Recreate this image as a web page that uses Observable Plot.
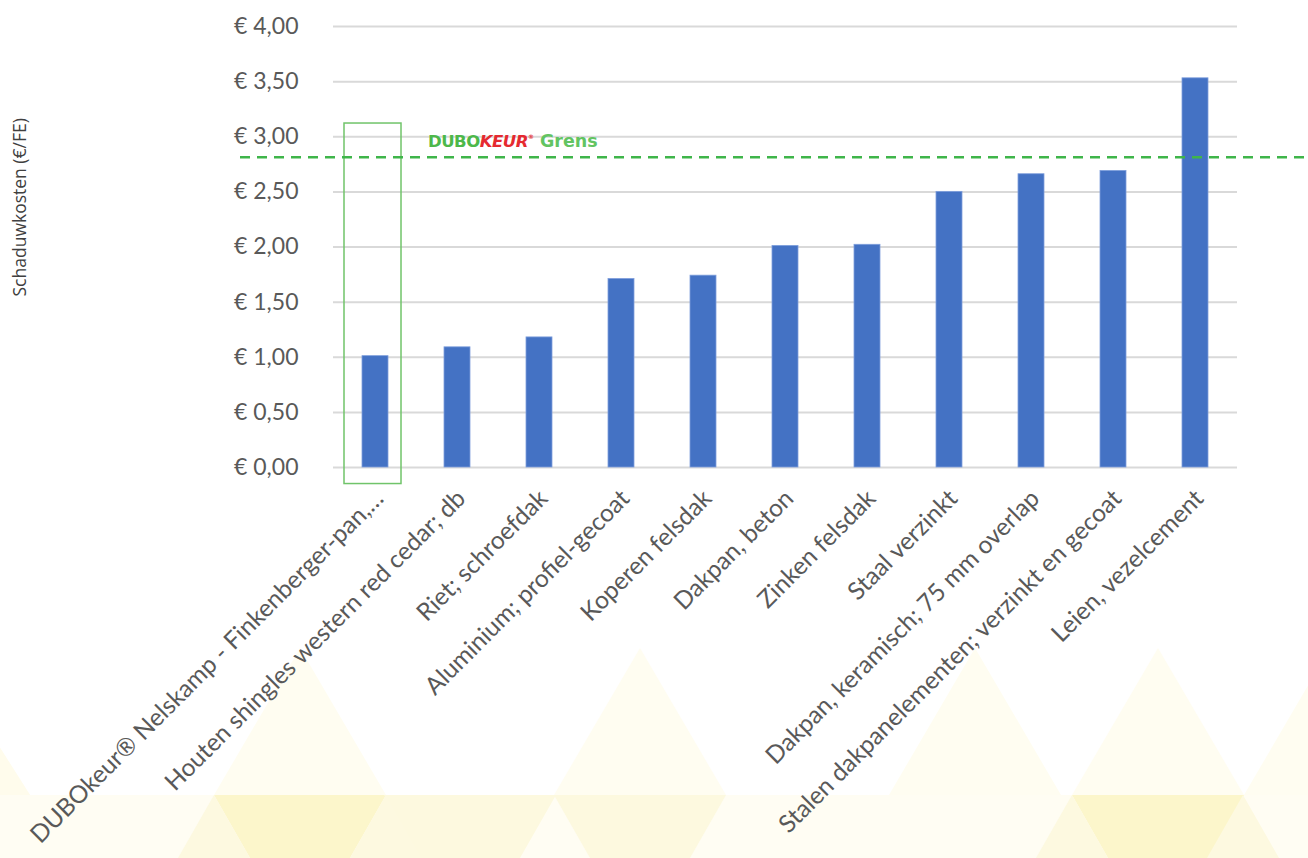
<!DOCTYPE html>
<html><head><meta charset="utf-8">
<script src="https://cdn.jsdelivr.net/npm/d3@7"></script>
<script src="https://cdn.jsdelivr.net/npm/@observablehq/plot@0.6"></script>
<style>
body{margin:0;background:#fff;}
#wrap{position:relative;width:1308px;height:858px;overflow:hidden;background:#fff;}
#bg{position:absolute;left:0;top:0;}
#chart{position:absolute;left:0;top:0;}
</style></head><body>
<div id="wrap"><svg id="bg" width="1308" height="858"></svg><div id="chart"></div></div>
<script>
const categories = [
  "DUBOkeur® Nelskamp - Finkenberger-pan,…",
  "Houten shingles western red cedar; db",
  "Riet; schroefdak",
  "Aluminium; profiel-gecoat",
  "Koperen felsdak",
  "Dakpan, beton",
  "Zinken felsdak",
  "Staal verzinkt",
  "Dakpan, keramisch; 75 mm overlap",
  "Stalen dakpanelementen; verzinkt en gecoat",
  "Leien, vezelcement"
];
const values = [1.01, 1.09, 1.18, 1.71, 1.74, 2.01, 2.02, 2.50, 2.66, 2.69, 3.53];
const yTicks = [0, 0.5, 1, 1.5, 2, 2.5, 3, 3.5, 4];
const limitValue = [2.81];
const highlightCategory = [categories[0]];
const highlightRange = [-0.15, 3.12];
const yTitle = "Schaduwkosten (€/FE)";

const data = categories.map((c, i) => ({category: c, value: values[i]}));
const fmt = v => "€ " + v.toFixed(2).replace(".", ",");

// decorative background: pale yellow triangle pattern along the bottom
const bg = d3.select("#bg");
const poly = (pts, c) => bg.append("polygon").attr("points", pts.map(d => d.join(",")).join(" ")).attr("fill", c);
const W = 86, top1 = 648, base1 = 795;
[300, 640, 975, 1158, 1330].forEach(px => poly([[px, top1], [px - W, base1], [px + W, base1]], "#fffdf1"));
poly([[-30, 700], [-130, 858], [70, 858]], "#fffcec");
poly([[0, base1], [1308, base1], [1308, 858], [0, 858]], "#fffdf3");
[300, 1158].forEach(px => poly([[px - W, base1], [px + W, base1], [px + W - 36, 858], [px - W + 36, 858]], "#fcf6cb"));
[470, 640].forEach(px => poly([[px - W, base1], [px + W, base1], [px + W - 36, 858], [px - W + 36, 858]], "#fdf9df"));
[214, 386, 1072, 1243].forEach(px => poly([[px, base1], [px - 36, 858], [px + 36, 858]], "#fdf9e0"));

const chart = Plot.plot({
  width: 1308,
  height: 858,
  marginLeft: 333,
  marginRight: 71,
  marginTop: 26,
  marginBottom: 391,
  style: {fontFamily: "Lato, sans-serif", fontSize: "23px", color: "#595959", background: "transparent", overflow: "visible"},
  x: {domain: categories, paddingInner: 0.68, paddingOuter: 0.34, label: null},
  y: {domain: [0, 4], label: null},
  marks: [
    Plot.gridY(yTicks, {stroke: "#d9d9d9", strokeOpacity: 1, strokeWidth: 2}),
    Plot.axisY(yTicks, {tickSize: 0, tickPadding: 35, tickFormat: fmt, fontSize: 23, fill: "#595959", label: null}),
    Plot.axisX({tickSize: 0, tickPadding: 27, dx: 4, tickRotate: -45, fontSize: 24.5, fill: "#595959", label: null}),
    Plot.text([yTitle], {y: () => 2.36, frameAnchor: "left", textAnchor: "middle", rotate: -90, dx: -313, fontSize: 17.5, fontFamily: "Open Sans, sans-serif", fill: "#404040"}),
    Plot.barY(data, {x: "category", y: "value", fill: "#4472c4", stroke: "#7f9fdc", strokeWidth: 0.8}),
    Plot.barY(highlightCategory, {x: d => d, y1: highlightRange[0], y2: highlightRange[1], fill: "none", stroke: "#70c46a", strokeWidth: 1.5, insetLeft: -18, insetRight: -13}),
    Plot.ruleY(limitValue, {
      render: (index, scales, values, dims) => {
        const g = d3.create("svg:g");
        const yv = scales.y(limitValue[0]);
        g.append("line").attr("x1", dims.marginLeft - 93).attr("x2", dims.width).attr("y1", yv).attr("y2", yv)
          .attr("stroke", "#3fb54a").attr("stroke-width", 2.5).attr("stroke-dasharray", "10,7");
        const x0 = scales.x(categories[1]);
        const t = g.append("text").attr("x", x0 - 16).attr("y", yv - 10).attr("text-anchor", "start")
          .attr("font-family", "DejaVu Sans, sans-serif").attr("font-weight", 700).attr("font-size", 16.5);
        t.append("tspan").attr("fill", "#4db84a").attr("letter-spacing", -0.5).text("DUBO");
        t.append("tspan").attr("fill", "#e52a30").attr("font-style", "italic").attr("letter-spacing", -0.5).text("KEUR");
        t.append("tspan").attr("fill", "#e52a30").attr("font-size", 6).attr("dy", -8).text("®");
        t.append("tspan").attr("fill", "#62c462").attr("dy", 8).attr("font-size", 17.5).text(" Grens");
        return g.node();
      }
    })
  ]
});
document.getElementById("chart").appendChild(chart);
</script>
</body></html>
